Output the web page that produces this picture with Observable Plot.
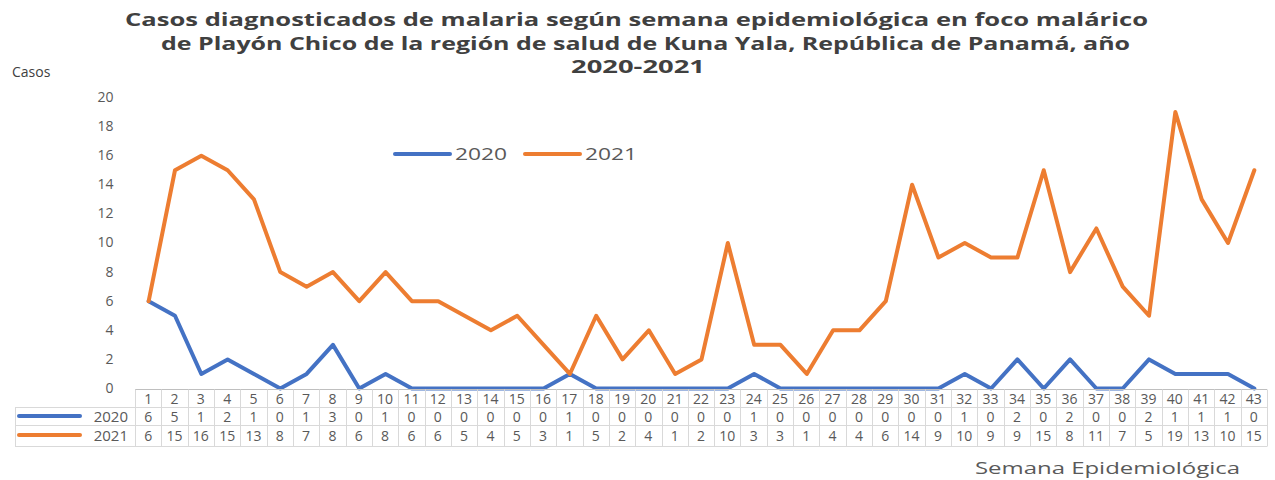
<!DOCTYPE html>
<html>
<head>
<meta charset="utf-8">
<script src="https://cdn.jsdelivr.net/npm/d3@7"></script>
<script src="https://cdn.jsdelivr.net/npm/@observablehq/plot@0.6"></script>
<style>
  body { margin: 0; background: #fff; }
  #chart { width: 1275px; height: 480px; }
</style>
</head>
<body>
<div id="chart"></div>
<script>
const weeks = d3.range(1, 44);
const cases2020 = [6,5,1,2,1,0,1,3,0,1,0,0,0,0,0,0,1,0,0,0,0,0,0,1,0,0,0,0,0,0,0,1,0,2,0,2,0,0,2,1,1,1,0];
const cases2021 = [6,15,16,15,13,8,7,8,6,8,6,6,5,4,5,3,1,5,2,4,1,2,10,3,3,1,4,4,6,14,9,10,9,9,15,8,11,7,5,19,13,10,15];
const yTicks = d3.range(0, 21, 2);
const seriesNames = ["2020", "2021"];
const colors = ["#4472C4", "#ED7D31"];
const titleLines = [
  "Casos diagnosticados de malaria según semana epidemiológica en foco malárico",
  "de Playón Chico de la región de salud de Kuna Yala, República de Panamá, año",
  "2020-2021"
];
const yLabel = "Casos";
const xLabel = "Semana Epidemiológica";

const d2020 = weeks.map((w, i) => ({week: w, value: cases2020[i]}));
const d2021 = weeks.map((w, i) => ({week: w, value: cases2021[i]}));

const plot = Plot.plot({
  width: 1275,
  height: 480,
  marginTop: 97,
  marginBottom: 92,
  marginLeft: 135,
  marginRight: 8,
  style: {fontFamily: "'Open Sans', sans-serif", fontSize: "14px", color: "#595959", background: "#fff"},
  x: {type: "linear", domain: [0.5, 43.5], axis: null},
  y: {domain: [0, 20], axis: null},
  marks: [
    Plot.axisY({ticks: yTicks, tickSize: 0, tickPadding: 22, label: null, tickFormat: d => d, fill: "#595959", fontSize: 14}),
    Plot.line(d2020, {x: "week", y: "value", stroke: colors[0], strokeWidth: 4, strokeLinejoin: "round"}),
    Plot.line(d2021, {x: "week", y: "value", stroke: colors[1], strokeWidth: 4, strokeLinejoin: "round"})
  ]
});
document.getElementById("chart").appendChild(plot);

const sx = plot.scale("x").apply;
const svg = d3.select(plot);
const font = "'Open Sans', sans-serif";

// Title
const titleG = svg.append("g").attr("text-anchor", "start").attr("font-family", font).attr("font-weight", "bold").attr("font-size", 17).attr("fill", "#404040");
const titleSpecs = [[125, 1148, 26], [161, 1130, 50], [571, 705, 73]];
titleLines.forEach((t, i) => {
  const [x0, x1, yb] = titleSpecs[i];
  titleG.append("text").attr("x", x0).attr("y", yb).attr("textLength", x1 - x0).attr("lengthAdjust", "spacingAndGlyphs").text(t);
});

// Axis labels
const lab = svg.append("g").attr("text-anchor", "start").attr("font-family", font);
lab.append("text").attr("x", 12).attr("y", 77).attr("font-size", 14).attr("fill", "#404040").text(yLabel);
lab.append("text").attr("x", 975).attr("y", 474).attr("textLength", 265).attr("lengthAdjust", "spacingAndGlyphs")
  .attr("font-size", 16).attr("fill", "#595959").text(xLabel);

// Legend
const leg = svg.append("g").attr("text-anchor", "start").attr("font-family", font).attr("font-size", 16).attr("fill", "#595959");
[[395, 450, 455], [525, 580, 585]].forEach(([a, b, t], i) => {
  leg.append("line").attr("x1", a).attr("x2", b).attr("y1", 154).attr("y2", 154).attr("stroke", colors[i]).attr("stroke-width", 4).attr("stroke-linecap", "round");
  leg.append("text").attr("x", t).attr("y", 160).attr("textLength", 52).attr("lengthAdjust", "spacingAndGlyphs").text(seriesNames[i]);
});

// Data table
const tb = svg.append("g");
const xl = sx(0.5), xr = sx(43.5), xleft = 15;
const gridColor = "#d9d9d9";
tb.append("line").attr("x1", xl).attr("x2", xr).attr("y1", 389.5).attr("y2", 389.5).attr("stroke", "#bfbfbf");
[407.5, 425.5, 446.5].forEach(y => tb.append("line").attr("x1", xleft).attr("x2", xr).attr("y1", y).attr("y2", y).attr("stroke", gridColor));
d3.range(0, 44).forEach(k => {
  const x = Math.round(sx(k + 0.5)) + 0.5;
  tb.append("line").attr("x1", x).attr("x2", x).attr("y1", 389.5).attr("y2", 446.5).attr("stroke", gridColor);
});
tb.append("line").attr("x1", xleft + 0.5).attr("x2", xleft + 0.5).attr("y1", 407.5).attr("y2", 446.5).attr("stroke", gridColor);

const tg = tb.append("g").attr("font-family", font).attr("font-size", 14).attr("fill", "#595959").attr("text-anchor", "middle");
weeks.forEach((w, i) => {
  const cx = sx(w);
  tg.append("text").attr("x", cx).attr("y", 404).text(w);
  tg.append("text").attr("x", cx).attr("y", 422).text(cases2020[i]);
  tg.append("text").attr("x", cx).attr("y", 441).text(cases2021[i]);
});
[[416, 422], [435, 441]].forEach(([ly, ty], i) => {
  tb.append("line").attr("x1", 19).attr("x2", 80).attr("y1", ly).attr("y2", ly).attr("stroke", colors[i]).attr("stroke-width", 4).attr("stroke-linecap", "round");
  tb.append("text").attr("x", 128).attr("y", ty).attr("text-anchor", "end").attr("font-family", font).attr("font-size", 15).attr("fill", "#595959").text(seriesNames[i]);
});
</script>
</body>
</html>
